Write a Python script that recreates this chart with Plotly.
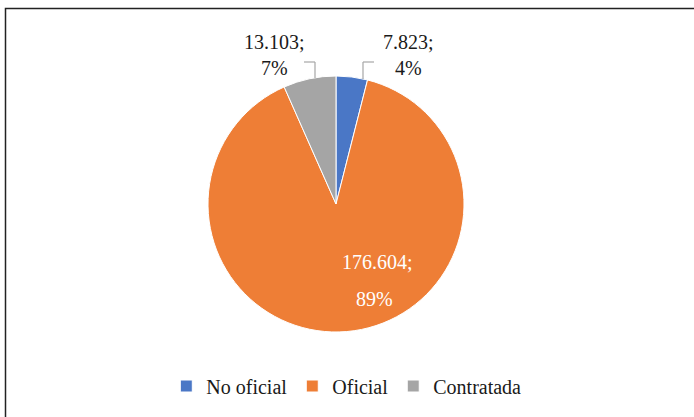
import plotly.graph_objects as go

labels = ["No oficial", "Oficial", "Contratada"]
values = [7823, 176604, 13103]
colors = ["#4A77C6", "#EE7E36", "#A5A5A5"]

W, H = 694, 417
cx, cy, r = 336, 204, 128

total = sum(values)


def fmt_value(v):
    return f"{v:,}".replace(",", ".")


def fmt_pct(v):
    return f"{round(100 * v / total)}%"


fig = go.Figure(go.Pie(
    labels=labels,
    values=values,
    sort=False,
    direction="clockwise",
    rotation=0,
    marker=dict(colors=colors, line=dict(color="#ffffff", width=1)),
    textinfo="none",
    domain=dict(x=[(cx - r) / W, (cx + r) / W], y=[1 - (cy + r) / H, 1 - (cy - r) / H]),
    hoverinfo="skip",
))

# label placements (pixels): index -> list of (text, x, y, color)
label_font = dict(family="Liberation Serif", size=20)
placements = {
    0: [(fmt_value(values[0]) + ";<br>" + fmt_pct(values[0]), 408, 55, "#1a1a1a")],
    1: [(fmt_value(values[1]) + ";", 377, 262, "#ffffff"), (fmt_pct(values[1]), 374, 299, "#ffffff")],
    2: [(fmt_value(values[2]) + ";<br>" + fmt_pct(values[2]), 274, 55, "#1a1a1a")],
}
annotations = []
for i, items in placements.items():
    for text, x, y, col in items:
        annotations.append(dict(text=text, x=x / W, y=1 - y / H, xref="paper", yref="paper",
                                showarrow=False, xanchor="center", yanchor="middle",
                                font=dict(color=col, **label_font)))

def px_line(x0, y0, x1, y1):
    return dict(type="line", xref="paper", yref="paper",
                x0=x0 / W, y0=1 - y0 / H, x1=x1 / W, y1=1 - y1 / H,
                line=dict(color="#A6A6A6", width=1.2))

shapes = [
    dict(type="rect", xref="paper", yref="paper",
         x0=5.5 / W, x1=1.05, y0=-0.05, y1=1 - 8.5 / H,
         line=dict(color="#222222", width=1.5)),
    # leader lines
    px_line(304, 62, 315, 62), px_line(315, 62, 315, 78),
    px_line(374, 62, 363, 62), px_line(363, 62, 363, 79),
]

fig.update_layout(
    width=W, height=H,
    margin=dict(l=0, r=0, t=0, b=0),
    paper_bgcolor="#ffffff",
    font=dict(family="Liberation Serif", size=20, color="#1a1a1a"),
    legend=dict(orientation="h", x=0.499, xanchor="center", y=1 - 386 / H, yanchor="middle",
                font=dict(size=20), itemwidth=30, tracegroupgap=0),
    annotations=annotations,
    shapes=shapes,
)

fig.write_html("out.html")
